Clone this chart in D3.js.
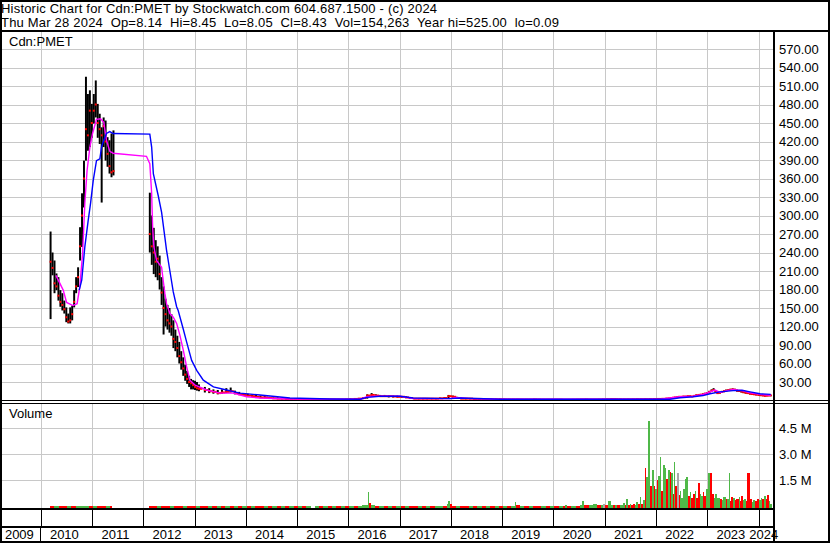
<!DOCTYPE html>
<html>
<head>
<meta charset="utf-8">
<script src="https://cdn.jsdelivr.net/npm/d3@7"></script>
<style>
body { margin: 0; background: #fff; }
svg { display: block; font-family: Arial, "Liberation Sans", sans-serif; }
.hdr { font-size: 13px; letter-spacing: 0.2px; white-space: pre; }
.lbl { font-size: 13px; }
.grid line { stroke: #c8c8c8; shape-rendering: crispEdges; }
.grid .domain { display: none; }
</style>
</head>
<body>
<svg id="chart" width="830" height="543"></svg>
<script>
// header text
const titleLine = "Historic Chart for Cdn:PMET by Stockwatch.com 604.687.1500 - (c) 2024";
const quoteLine = "Thu Mar 28 2024  Op=8.14  Hi=8.45  Lo=8.05  Cl=8.43  Vol=154,263  Year hi=525.00  lo=0.09";

// axis ticks
const priceTicks = [30,60,90,120,150,180,210,240,270,300,330,360,390,420,450,480,510,540,570];
const volTicks = [1500, 3000, 4500];          // thousands of shares
const years = [2009,2010,2011,2012,2013,2014,2015,2016,2017,2018,2019,2020,2021,2022,2023,2024];

// price bars
const barDates = [
"2010-03-12","2010-03-26","2010-04-09","2010-04-23","2010-05-07","2010-05-21","2010-06-04","2010-06-18","2010-07-02","2010-07-16","2010-07-30","2010-08-13","2010-08-27","2010-09-10","2010-09-24","2010-10-08","2010-10-22","2010-11-05","2010-11-19","2010-12-03","2010-12-17","2010-12-31","2011-01-14","2011-01-28","2011-02-11","2011-02-25","2011-03-11","2011-03-25","2011-04-08","2011-04-22","2011-05-06","2011-05-20","2011-06-03",
"2012-02-17","2012-03-02","2012-03-16","2012-03-30","2012-04-13","2012-04-27","2012-05-11","2012-05-25","2012-06-08","2012-06-22","2012-07-06","2012-07-20","2012-08-03","2012-08-17","2012-08-31","2012-09-14","2012-09-28","2012-10-12","2012-10-26","2012-11-09","2012-11-23","2012-12-07","2012-12-21","2013-01-04","2013-01-18","2013-02-01",
"2013-03-15","2013-04-15","2013-05-15","2013-06-15","2013-07-15","2013-08-15","2013-09-15","2013-10-15","2013-11-15","2013-12-15",
"2014-01-15","2014-02-15","2014-03-15","2014-04-15","2014-05-15","2014-06-15","2014-07-15","2014-08-15","2014-09-15","2014-10-15","2014-11-15","2014-12-15",
"2015-01-15","2015-02-15","2015-03-15","2015-04-15","2015-05-15","2015-06-15","2015-07-15","2015-08-15","2015-09-15","2015-10-15","2015-11-15","2015-12-15",
"2016-01-15","2016-02-15","2016-03-15","2016-04-15","2016-05-15","2016-06-15","2016-07-15","2016-08-15","2016-09-15","2016-10-15","2016-11-15","2016-12-15",
"2017-01-15","2017-02-15","2017-03-15","2017-04-15","2017-05-15","2017-06-15","2017-07-15","2017-08-15","2017-09-15","2017-10-15","2017-11-15","2017-12-15",
"2018-01-15","2018-02-15","2018-03-15","2018-04-15","2018-05-15","2018-06-15","2018-07-15","2018-08-15","2018-09-15","2018-10-15","2018-11-15","2018-12-15",
"2019-01-15","2019-02-15","2019-03-15","2019-04-15","2019-05-15","2019-06-15","2019-07-15","2019-08-15","2019-09-15","2019-10-15","2019-11-15","2019-12-15",
"2020-01-15","2020-02-15","2020-03-15","2020-04-15","2020-05-15","2020-06-15","2020-07-15","2020-08-15","2020-09-15","2020-10-15","2020-11-15","2020-12-15",
"2021-01-15","2021-02-15","2021-03-15","2021-04-15","2021-05-15","2021-06-15","2021-07-15","2021-08-15","2021-09-15","2021-10-15","2021-11-15","2021-12-15",
"2022-01-15","2022-02-15","2022-03-15",
"2022-04-01","2022-04-15","2022-05-01","2022-05-15","2022-06-01","2022-06-15","2022-07-01","2022-07-15","2022-08-01","2022-08-15","2022-09-01","2022-09-15","2022-10-01","2022-10-15","2022-11-01","2022-11-15","2022-12-01","2022-12-15",
"2023-01-01","2023-01-15","2023-02-01","2023-02-15","2023-03-01","2023-03-15","2023-04-01","2023-04-15","2023-05-01","2023-05-15","2023-06-01","2023-06-15","2023-07-01","2023-07-15","2023-08-01","2023-08-15","2023-09-01","2023-09-15","2023-10-01","2023-10-15","2023-11-01","2023-11-15","2023-12-01","2023-12-15",
"2024-01-01","2024-01-15","2024-02-01","2024-02-15","2024-03-01","2024-03-15","2024-03-28"];

const barHigh = [
274,240,227,206,200,179,174,162,151,141,151,154,179,200,216,281,336,389,525,497,503,481,497,519,481,465,443,459,454,427,422,433,438,
337,300,280,260,250,235,200,185,165,155,150,140,130,115,105,95,80,70,58,48,40,35,33,32,30,26,
22,20,18,17,18,20,21,16,14,12,
11,10,9,8,7,6,5,5,4,3.5,3,3,
2.8,2.6,2.5,2.5,2.4,2.4,2.3,2.3,2.2,2.2,2.2,2.5,
3,3.5,4,5,10,12,10,9,9,8,8,8,
7,7,5,4,4,4,4,4,4,4.5,5,9,
8,6,4.5,4,4,3.5,3.5,3,3,3,3,3,
2.8,2.6,2.5,2.5,2.5,2.5,2.4,2.6,2.4,2.3,2.2,2.2,
2.2,2.2,2,2,2,2.2,2.4,2.6,2.4,2.3,2.4,2.6,
2.6,3,3,2.8,2.6,2.6,2.6,2.8,2.8,3,3,3.2,
3.2,3.4,3.8,
4,4.6,5.2,5.8,6.3,7,6.8,7.4,7.3,7.8,7.9,7.4,8.5,9.6,10,10.5,11.2,12.4,
13.5,15.6,18,20,16,13.5,14,15.5,16.5,17.6,18.6,19,19.6,19,17.6,17,16,15,13.8,13.2,12.2,11.6,11,10.5,
10,9.5,8.9,8.4,8.6,8.8,8.45];

const barLow = [
132,203,174,179,162,152,146,141,127,125,125,130,151,174,184,227,249,313,389,405,411,426,449,459,426,416,321,411,389,379,368,362,365,
240,220,205,200,195,180,155,107,120,115,110,105,85,80,70,60,50,40,32,27,22,18,18,17,16,15,
13,12,11,10,11,12,13,10,9,8,
7,6,5,4,4,3,3,2.5,2,2,1.5,1.5,
1.5,1.4,1.3,1.3,1.2,1.2,1.1,1.1,1.1,1.1,1.1,1.2,
1.2,1.5,1.8,2.2,3,6,6,6,6,5,5,5,
4.5,4,3,2.5,2,2,2,2,2,2.5,3,3,
4,3,2.5,2,2,2,1.8,1.6,1.5,1.5,1.5,1.5,
1.2,1.2,1.1,1.1,1.1,1.1,1.1,1.2,1.1,1,1,1,
1,1,0.9,0.9,1,1,1.1,1.2,1.1,1.1,1.1,1.2,
1.2,1.5,1.5,1.4,1.3,1.3,1.3,1.4,1.4,1.5,1.5,1.6,
1.8,1.9,2.2,
3,3.5,4,4.4,4.9,5.3,5.3,5.8,5.8,6.2,6.2,5.8,6.6,7.5,8,8.5,9,9.8,
10.8,12.6,14.4,15.4,12.6,10.8,11.2,12.6,13.5,14.4,15.4,15.9,16.4,15.9,14.4,14,13,12,11.2,10.8,9.8,9.4,9,8.5,
8,7.6,7.2,6.8,7,7.2,8.05];

const barClose = [
225,215,190,185,170,160,155,148,135,128,130,140,160,185,200,250,300,360,440,430,470,450,470,480,450,440,430,445,420,400,380,370,372,
270,250,240,225,230,205,175,150,140,130,125,120,100,95,85,72,62,52,42,35,30,28,25,22,20,19,
17,15,14,12,13,14,15,12,10,9,
8,7,6,5,5,4,3.5,3,3,2.5,2,2,
2,1.9,1.8,1.8,1.7,1.7,1.6,1.6,1.6,1.6,1.6,1.8,
2,2.5,3,4,8,9,8,7,7,7,6.5,6,
6,5,4,3,3,3,3,3,3,3.5,4,7,
6,4,3,3,3,2.5,2.5,2.2,2,2,2,2,
1.8,1.7,1.7,1.7,1.6,1.6,1.6,1.8,1.6,1.5,1.5,1.5,
1.5,1.5,1.3,1.3,1.4,1.5,1.7,1.8,1.6,1.6,1.7,1.9,
2,2.3,2.2,2,1.9,1.9,2,2.1,2.1,2.2,2.3,2.4,
2.5,2.7,3.2,
3.5,4,4.5,5,5.5,6,6,6.5,6.5,7,7,6.5,7.5,8.5,9,9.5,10,11,
12,14,16,17,14,12,12.5,14,15,16,17,17.5,18,17.5,16,15.5,14.5,13.5,12.5,12,11,10.5,10,9.5,
9,8.5,8,7.5,7.8,8,8.43];

// short moving average (magenta)
const fastDates = ["2010-04-19","2010-06-10","2010-07-04","2010-08-18","2010-09-17","2010-10-06","2010-10-26","2010-11-11","2010-11-27","2010-12-17","2011-01-05","2011-02-02","2011-03-03","2011-03-26","2011-04-14","2011-05-08","2011-05-31","2012-01-24","2012-02-17","2012-03-01","2012-03-08","2012-03-17","2012-04-05","2012-05-11","2012-05-22","2012-06-03","2012-06-15","2012-07-09","2012-08-02","2012-08-26","2012-09-18","2012-10-12","2012-11-05","2012-11-28","2013-01-04","2013-03-28","2013-07-01","2013-10-02","2014-01-07","2014-04-12","2014-11-11","2016-03-24","2016-05-13","2016-07-09","2017-01-03","2017-04-06","2017-12-26","2018-01-30","2018-05-17","2018-12-17","2022-01-30","2022-04-11","2022-06-21","2022-09-22","2022-12-02","2023-01-20","2023-02-25","2023-04-02","2023-05-22","2023-07-04","2023-09-06","2023-11-02","2024-01-12","2024-03-28"];
const fastValues = [203,179,159,154,157,184,238,320,373,411,433,456,457,451,422,404,401,396,384,336,281,249,227,216,195,174,157,141,135,125,106,82,55,33,25,17,12,12,6,4,2.5,2,6,7,7,3,3,5,3,2,2,4,6,7,10,14,17,13,16,18,16,12.5,10,8.5];

// long moving average (blue)
const slowDates = ["2010-10-02","2010-10-20","2010-11-11","2010-12-05","2010-12-22","2011-01-10","2011-02-02","2011-02-26","2011-03-10","2011-03-26","2011-04-14","2011-05-08","2011-05-31","2012-02-17","2012-03-01","2012-03-13","2012-04-17","2012-05-11","2012-06-03","2012-06-15","2012-07-09","2012-08-02","2012-08-26","2012-09-06","2012-10-12","2012-11-05","2012-12-11","2013-01-16","2013-03-04","2013-05-15","2013-08-17","2013-11-20","2014-04-12","2014-11-11","2015-08-23","2016-03-24","2016-05-13","2016-08-13","2017-01-03","2017-04-06","2017-12-26","2018-03-07","2018-12-17","2022-04-11","2022-06-21","2022-09-22","2022-12-02","2023-01-20","2023-04-02","2023-07-04","2023-09-06","2023-11-02","2024-01-12","2024-03-28"];
const slowValues = [179,195,249,292,320,357,389,392,411,422,433,436,433,432,411,368,332,305,265,244,210,176,152,146,116,95,65,49,33,22,17,12,9,4,2.5,2,5,7,7,4,3,4,2,2,4.5,6,8,11,14,16,16.5,14,11,10];

// volume, thousands of shares; u = up day, d = down day, n = unchanged
const volDates = [
"2010-03-15","2010-04-15","2010-05-15","2010-06-15","2010-07-15","2010-08-15","2010-09-15","2010-10-15","2010-11-15","2010-12-15","2011-01-15","2011-02-15","2011-03-15","2011-04-15","2011-05-15",
"2012-02-15","2012-03-15","2012-04-15","2012-05-15","2012-06-15","2012-07-15","2012-08-15","2012-09-15","2012-10-15","2012-11-15","2012-12-15",
"2013-01-15","2013-02-15","2013-03-15","2013-04-15","2013-05-15","2013-06-15","2013-07-15","2013-08-15","2013-09-15","2013-10-15","2013-11-15","2013-12-15",
"2014-01-15","2014-02-15","2014-03-15","2014-04-15","2014-05-15","2014-06-15","2014-07-15","2014-08-15","2014-09-15","2014-10-15","2014-11-15","2014-12-15",
"2015-01-15","2015-02-15","2015-03-15","2015-05-15","2015-06-15","2015-07-15","2015-08-15","2015-09-15","2015-10-15","2015-11-15","2015-12-15",
"2016-01-15","2016-02-15","2016-03-15","2016-04-15","2016-05-15","2016-05-27","2016-06-03","2016-06-15","2016-07-15","2016-08-15","2016-09-15","2016-10-15","2016-11-15","2016-12-15",
"2017-01-15","2017-02-15","2017-03-15","2017-04-15","2017-05-15","2017-06-15","2017-07-15","2017-08-15","2017-09-15","2017-10-15","2017-11-15","2017-12-10","2017-12-16",
"2018-01-05","2018-01-15","2018-02-15","2018-03-15","2018-04-15","2018-05-15","2018-06-15","2018-07-15","2018-08-15","2018-09-15","2018-10-15","2018-11-15","2018-12-15",
"2019-01-15","2019-02-15","2019-03-15","2019-04-08","2019-04-15","2019-05-15","2019-06-15","2019-07-15","2019-08-15","2019-09-10","2019-09-15","2019-10-15","2019-11-15","2019-12-15",
"2020-01-15","2020-02-15","2020-03-15","2020-04-02","2020-04-15","2020-05-15","2020-06-15","2020-07-15","2020-07-31","2020-08-15","2020-09-15","2020-10-15","2020-11-15","2020-12-10","2020-12-28",
"2021-01-11","2021-02-01","2021-02-20","2021-03-08","2021-03-22","2021-04-07","2021-04-25","2021-05-18","2021-05-30","2021-06-11","2021-06-22","2021-07-05","2021-07-16","2021-07-28","2021-08-10","2021-08-21","2021-09-02","2021-09-14","2021-09-25","2021-10-07","2021-10-20","2021-11-01","2021-11-13","2021-11-25","2021-12-07","2021-12-14","2021-12-26",
"2022-01-04","2022-01-13","2022-01-23","2022-02-04","2022-02-16","2022-02-28","2022-03-12","2022-03-23","2022-04-04","2022-04-16","2022-04-28","2022-05-08","2022-05-17","2022-05-26","2022-06-10","2022-06-19","2022-06-29","2022-07-08","2022-07-20","2022-08-01","2022-08-13","2022-08-25","2022-09-05","2022-09-17","2022-09-29","2022-10-11","2022-10-23","2022-11-04","2022-11-16","2022-11-27","2022-12-06","2022-12-16",
"2023-01-02","2023-01-14","2023-01-28","2023-02-12","2023-02-22","2023-03-03","2023-03-21","2023-04-07","2023-04-20","2023-05-01","2023-05-20","2023-06-01","2023-06-11","2023-06-20","2023-06-29","2023-07-11","2023-07-24","2023-08-04","2023-08-21","2023-08-30","2023-09-08","2023-09-18","2023-09-28","2023-10-10","2023-10-21","2023-11-07","2023-11-20","2023-12-01","2023-12-15","2023-12-30",
"2024-01-10","2024-01-24","2024-02-05","2024-02-17","2024-03-01","2024-03-12","2024-03-20","2024-03-28"];

const volK = [
30,20,25,15,20,15,20,30,35,25,20,20,15,15,10,
30,25,20,25,20,15,20,25,20,15,20,
15,20,15,15,20,15,20,15,15,20,15,15,
20,15,20,15,15,20,15,15,20,15,15,20,
15,15,20,15,15,20,15,15,20,15,15,
20,25,40,60,100,800,200,60,30,25,20,25,20,20,
20,15,20,15,15,20,15,15,20,25,40,120,320,
150,40,30,20,15,20,15,15,20,15,15,20,15,
20,15,25,220,80,30,20,25,20,130,40,25,20,25,
20,30,25,100,30,40,30,50,320,60,80,150,100,100,150,
80,320,60,80,50,100,60,200,90,440,100,150,60,120,90,250,120,550,150,350,2200,1700,4900,1150,1500,2100,1200,
1000,1500,1750,2860,900,2380,2200,1600,2100,2000,1900,700,2570,1200,1950,650,900,500,1000,1550,1700,600,800,500,700,900,500,1350,700,600,800,600,
1000,1950,1900,700,500,700,500,400,350,550,400,450,1950,300,550,500,350,450,550,300,600,350,400,300,1940,450,250,350,300,450,
350,500,400,600,400,650,300,154];

const volDir = [
"d","u","d","d","u","d","u","u","u","d","u","d","d","u","d",
"d","d","u","d","d","u","d","d","u","d","d",
"u","d","d","u","d","u","d","u","d","u","d","u",
"d","u","d","d","u","d","u","d","u","d","u","d",
"u","d","u","u","d","u","d","u","d","u","d",
"u","d","u","u","u","u","d","u","d","u","d","u","d","u",
"d","u","d","d","u","d","u","d","u","u","d","u","u",
"d","d","u","d","d","u","d","u","d","u","d","u","d",
"u","d","u","u","d","u","d","u","d","u","d","u","d","u",
"d","u","d","u","d","u","d","u","u","d","u","u","d","u","n",
"d","u","u","d","u","d","u","u","d","u","d","u","d","d","u","u","d","u","d","u","d","u","u","d","d","u","d",
"u","d","u","u","d","u","u","d","u","d","u","d","u","d","n","d","u","u","u","u","u","d","u","d","d","u","d","d","u","u","d","d",
"u","u","d","d","u","u","u","d","u","u","d","u","u","d","d","u","d","d","u","d","d","u","u","d","d","d","u","u","d","d",
"u","u","d","u","d","d","u","u"];

const parse = d3.timeParse("%Y-%m-%d");

const left = 2, right = 773;
const priceTop = 32, priceBottom = 400;
const volTop = 404, volBottom = 508;
const bandTop = 510, bandBottom = 526;

const svg = d3.select("#chart");

const x = d3.scaleTime()
  .domain([new Date(2010, 0, 1), new Date(2024, 0, 1)])
  .range([40.75, 758.5]);
const yPrice = d3.scaleLinear().domain([0, 600]).range([400.5, 30.5]);
const yVol = d3.scaleLinear().domain([0, 6000]).range([506.3, 402.3]);

const yearStarts = years.slice(1).map(function(y) { return new Date(y, 0, 1); });

// width of a mark: distance to the next date, capped
function widths(dates, cap) {
  return dates.map(function(d, i) {
    if (i == dates.length - 1) return 2;
    const g = x(dates[i + 1]) - x(d);
    return g > 10 ? 2 : Math.min(g, cap);
  });
}

//Price panel grid
svg.append("g").attr("class", "grid")
  .attr("transform", "translate(" + right + ",0)")
  .call(d3.axisLeft(yPrice).tickValues(priceTicks).tickSize(right - left).tickFormat(""));
svg.append("g").attr("class", "grid")
  .attr("transform", "translate(0," + priceTop + ")")
  .call(d3.axisBottom(x).tickValues(yearStarts).tickSize(priceBottom - priceTop).tickFormat(""));

//Volume panel grid
svg.append("g").attr("class", "grid")
  .attr("transform", "translate(" + right + ",0)")
  .call(d3.axisLeft(yVol).tickValues(volTicks).tickSize(right - left).tickFormat(""));
svg.append("g").attr("class", "grid")
  .attr("transform", "translate(0," + volTop + ")")
  .call(d3.axisBottom(x).tickValues(yearStarts).tickSize(volBottom - volTop).tickFormat(""));

// black year separators under the volume panel
const band = svg.append("g")
  .attr("transform", "translate(0," + bandTop + ")")
  .call(d3.axisBottom(x).tickValues(yearStarts).tickSize(bandBottom - bandTop).tickFormat(""));
band.select(".domain").remove();
band.selectAll("line").attr("stroke", "#000").style("shape-rendering", "crispEdges");

// price bars
const bDates = barDates.map(parse);
const bW = widths(bDates, 2);
const tW = widths(bDates, 4.5);

svg.append("g").selectAll("rect")
  .data(bDates).enter().append("rect")
  .attr("x", function(d, i) { return x(d) - bW[i] / 2; })
  .attr("width", function(d, i) { return bW[i]; })
  .attr("y", function(d, i) { return yPrice(barHigh[i]); })
  .attr("height", function(d, i) { return Math.max(1, yPrice(barLow[i]) - yPrice(barHigh[i])); })
  .attr("fill", "#000");

// close marks
svg.append("g").selectAll("rect")
  .data(bDates).enter().append("rect")
  .attr("x", function(d) { return x(d) - 1; })
  .attr("width", function(d, i) { return tW[i]; })
  .attr("y", function(d, i) { return yPrice(barClose[i]) - 1; })
  .attr("height", 2)
  .attr("fill", "#ff0000");

// moving averages
const line = d3.line()
  .x(function(d) { return x(d.date); })
  .y(function(d) { return yPrice(d.v); });

const fast = fastDates.map(function(d, i) { return {date: parse(d), v: fastValues[i]}; });
const slow = slowDates.map(function(d, i) { return {date: parse(d), v: slowValues[i]}; });

svg.append("path").datum(fast)
  .attr("d", line).attr("fill", "none")
  .attr("stroke", "#ff00ff").attr("stroke-width", 1.4);
svg.append("path").datum(slow)
  .attr("d", line).attr("fill", "none")
  .attr("stroke", "#0000ff").attr("stroke-width", 1.4);

// volume bars
const vDates = volDates.map(parse);
const vW = widths(vDates, 4.5);
const volColor = {u: "#4fb848", d: "#ff0000", n: "#a8a8a8"};

svg.append("g").selectAll("rect")
  .data(vDates).enter().append("rect")
  .attr("x", function(d) { return x(d) - 1; })
  .attr("width", function(d, i) { return vW[i]; })
  .attr("y", function(d, i) { return yVol(volK[i]); })
  .attr("height", function(d, i) { return volBottom - yVol(volK[i]); })
  .attr("fill", function(d, i) { return volColor[volDir[i]]; })
  .style("shape-rendering", "crispEdges");

// right axis labels
const pAxis = svg.append("g").attr("class", "lbl")
  .attr("transform", "translate(775,0)")
  .call(d3.axisRight(yPrice).tickValues(priceTicks).tickSize(0).tickPadding(4).tickFormat(d3.format(".2f")));
const vAxis = svg.append("g").attr("class", "lbl")
  .attr("transform", "translate(775,0)")
  .call(d3.axisRight(yVol).tickValues(volTicks).tickSize(0).tickPadding(4)
    .tickFormat(function(d) { return (d / 1000).toFixed(1) + " M"; }));
[pAxis, vAxis].forEach(function(a) {
  a.select(".domain").remove();
  a.selectAll("text").attr("fill", "#000").style("font-family", "Arial, 'Liberation Sans', sans-serif").style("font-size", "13px");
});

// year labels, centred in the visible part of each year
svg.append("g").selectAll("text")
  .data(years).enter().append("text")
  .attr("class", "lbl")
  .attr("x", function(y) {
    const a = Math.max(left, x(new Date(y, 0, 1)));
    const b = Math.min(right, x(new Date(y + 1, 0, 1)));
    return (a + b) / 2 - 2;
  })
  .attr("y", 539)
  .attr("text-anchor", "middle")
  .text(function(y) { return y; });

// panel labels and header
svg.append("text").attr("class", "lbl").attr("x", 9).attr("y", 46).text("Cdn:PMET");
svg.append("text").attr("class", "lbl").attr("x", 9).attr("y", 418).text("Volume");
svg.append("text").attr("class", "hdr").attr("x", 1).attr("y", 13).text(titleLine);
svg.append("text").attr("class", "hdr").attr("x", 1).attr("y", 27).text(quoteLine);

// frame lines
const frame = svg.append("g").attr("stroke", "#000").style("shape-rendering", "crispEdges");
frame.append("line").attr("x1", 0).attr("x2", 830).attr("y1", 31).attr("y2", 31).attr("stroke-width", 2);
frame.append("line").attr("x1", 0).attr("x2", 830).attr("y1", 400.5).attr("y2", 400.5).attr("stroke-width", 1);
frame.append("line").attr("x1", 0).attr("x2", 830).attr("y1", 403.5).attr("y2", 403.5).attr("stroke-width", 1);
frame.append("line").attr("x1", 0).attr("x2", 774).attr("y1", 509).attr("y2", 509).attr("stroke-width", 2);
frame.append("line").attr("x1", 0).attr("x2", 774).attr("y1", 527).attr("y2", 527).attr("stroke-width", 2);
frame.append("line").attr("x1", 774).attr("x2", 774).attr("y1", 31).attr("y2", 543).attr("stroke-width", 2);
frame.append("line").attr("x1", x(yearStarts[0])).attr("x2", x(yearStarts[0])).attr("y1", 527).attr("y2", 541).attr("stroke-width", 1);
frame.append("rect").attr("x", 1).attr("y", 1).attr("width", 828).attr("height", 541)
  .attr("fill", "none").attr("stroke-width", 2);
</script>
</body>
</html>
